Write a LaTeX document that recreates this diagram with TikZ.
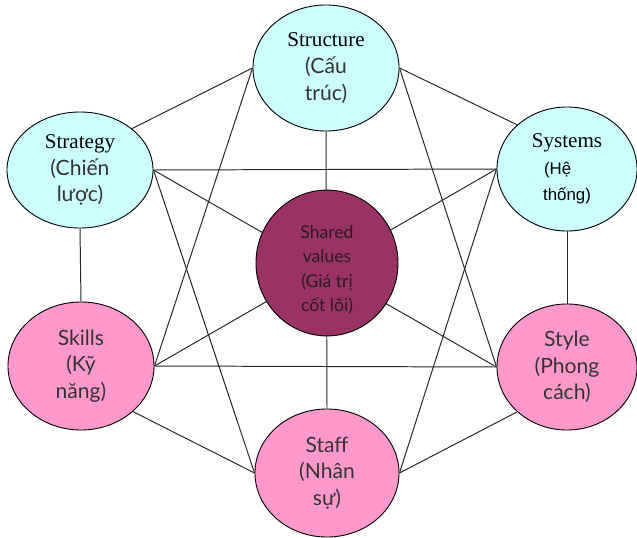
\documentclass[tikz,border=0pt]{standalone}
\usepackage{fontspec}
\setmainfont{Liberation Serif}
\newfontfamily\optfont{Lato}
\newfontfamily\arialfont{Liberation Sans}
\usetikzlibrary{shapes.geometric}

\definecolor{skyfill}{HTML}{CCFFFF}
\definecolor{pinkfill}{HTML}{FF99CC}
\definecolor{plumfill}{HTML}{993366}
\definecolor{inkgray}{HTML}{333333}
\definecolor{plumink}{HTML}{2A1A22}

\begin{document}
\begin{tikzpicture}[
  x=0.025cm, y=-0.025cm,
  ball/.style={draw, ellipse, line width=0.65pt, inner sep=0pt, align=center,
    font=\fontsize{15}{19}\selectfont},
  skyball/.style={ball, fill=skyfill},
  pinkball/.style={ball, fill=pinkfill, text=inkgray, font=\optfont\fontsize{15}{19}\selectfont},
  plumball/.style={ball, fill=plumfill, text=plumink, font=\optfont\fontsize{12.5}{17.5}\selectfont},
  link/.style={draw=black!85, line width=0.7pt}
]
\useasboundingbox (0,0) rectangle (637,538);

% outer ring of six
\node[skyball, minimum width=3.65cm, minimum height=3.15cm] (struct) at (326,68)
  {Structure\\\optfont\color{inkgray}(Cấu\\\optfont\color{inkgray}trúc)};
\node[skyball, minimum width=3.65cm, minimum height=2.9cm] (strat) at (80,170)
  {Strategy\\\optfont\color{inkgray}(Chiến\\\optfont\color{inkgray}lược)};
\node[skyball, minimum width=3.5cm, minimum height=3.1cm] (syst) at (567,169)
  {Systems\\\arialfont\fontsize{12}{17}\selectfont(Hệ\phantom{ng}\\\arialfont\fontsize{12}{17}\selectfont thống)};
\node[pinkball, minimum width=3.65cm, minimum height=3.2cm] (skills) at (81,366)
  {Skills\\(Kỹ\\năng)};
\node[pinkball, minimum width=3.5cm, minimum height=3.15cm] (style) at (567,367)
  {Style\\(Phong\\cách)};
\node[pinkball, minimum width=3.6cm, minimum height=3.2cm] (staff) at (327,473)
  {Staff\\(Nhân\\sự)};

% every pair joined
\draw[link] (struct.west) -- (strat.north east);
\draw[link] (struct.east) -- (syst.north west);
\draw[link] (struct.west) -- (skills.east);
\draw[link] (struct.east) -- (style.west);
\draw[link] (struct.south) -- (staff.north);
\draw[link] (strat.east) -- (syst.west);
\draw[link] (strat.south) -- (skills.north);
\draw[link] (strat.east) -- (style.west);
\draw[link] (strat.east) -- (staff.west);
\draw[link] (syst.west) -- (skills.east);
\draw[link] (syst.south) -- (style.north);
\draw[link] (syst.west) -- (staff.east);
\draw[link] (skills.east) -- (style.west);
\draw[link] (skills.south east) -- (staff.west);
\draw[link] (style.south west) -- (staff.east);

% centre sits over the crossing lines
\node[plumball, minimum width=3.55cm, minimum height=3.15cm] (shared) at (327,263)
  {\rule{0pt}{19pt}Shared\\values\\(Giá trị\\cốt lõi)};
\end{tikzpicture}
\end{document}
